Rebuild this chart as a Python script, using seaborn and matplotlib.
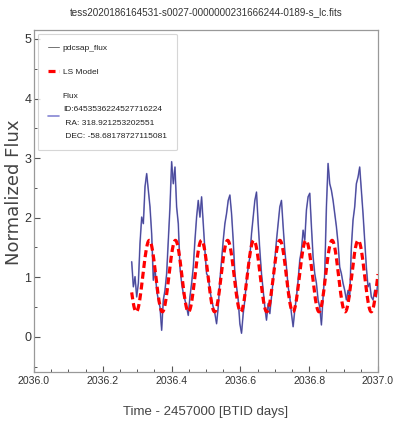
import numpy as np
import pandas as pd
import matplotlib
matplotlib.use("Agg")
import matplotlib.pyplot as plt
import matplotlib.font_manager as fm
from matplotlib.ticker import MultipleLocator
import seaborn as sns

# ---- light curve data -------------------------------------------------------
title = "tess2020186164531-s0027-0000000231666244-0189-s_lc.fits"
t_start, t_end = 2036.284, 2037.0
flux = [
    1.26, 0.84, 1.01, 0.67, 0.90, 1.57, 2.01, 1.90, 2.52, 2.74,
    2.46, 2.18, 1.73, 0.95, 1.17, 0.78, 0.62, 0.50, 0.11, 0.62,
    0.78, 1.06, 1.62, 2.18, 2.94, 2.57, 2.85, 2.18, 1.90, 1.17,
    0.90, 0.73, 0.62, 0.50, 0.36, 0.67, 0.90, 1.17, 1.62, 2.01,
    2.29, 2.01, 2.35, 1.90, 1.45, 1.06, 1.01, 0.78, 0.62, 0.50,
    0.39, 0.22, 0.50, 0.95, 1.29, 1.62, 1.90, 2.07, 2.29, 2.38,
    2.07, 1.62, 1.06, 0.84, 0.62, 0.22, 0.06, 0.39, 0.62, 0.95,
    1.17, 1.34, 1.73, 2.01, 2.29, 2.43, 1.90, 1.45, 1.06, 0.78,
    0.50, 0.28, 0.56, 0.39, 0.67, 0.95, 1.29, 1.62, 1.90, 2.18,
    2.29, 1.85, 1.45, 1.17, 0.84, 0.67, 0.39, 0.17, 0.45, 0.67,
    0.95, 1.29, 1.45, 1.79, 1.62, 2.13, 2.35, 2.41, 1.85, 1.34,
    1.06, 0.90, 0.62, 0.50, 0.20, 0.67, 1.06, 2.18, 2.91, 2.57,
    2.46, 2.29, 2.07, 1.85, 1.57, 1.17, 1.06, 0.90, 0.78, 0.62,
    0.78, 0.67, 1.51, 1.96, 2.18, 2.57, 2.68, 2.85, 2.46, 2.07,
    1.62, 1.17, 0.84, 0.90, 0.67, 0.62, 0.78, 0.67, 0.95,
]

# Lomb-Scargle best-fit sinusoid
ls_period = 0.0759      # days
ls_amplitude = 0.60
ls_offset = 1.02
ls_epoch = 2036.3352    # time of maximum

target_id = "6453536224527716224"
target_ra = "318.921253202551"
target_dec = "-58.68178727115081"

x_ticks = [2036.0, 2036.2, 2036.4, 2036.6, 2036.8, 2037.0]
y_ticks = [0, 1, 2, 3, 4, 5]

# ---- build tables -----------------------------------------------------------
time = np.linspace(t_start, t_end, len(flux))
lc = pd.DataFrame({"time": time, "flux": flux})

model_time = np.linspace(t_start, t_end, 800)
model = pd.DataFrame({
    "time": model_time,
    "flux": ls_offset + ls_amplitude * np.cos(2 * np.pi * (model_time - ls_epoch) / ls_period),
})

# ---- style ------------------------------------------------------------------
sns.set_theme(style="white")
names = {f.name for f in fm.fontManager.ttflist}
narrow = "Liberation Sans Narrow" if "Liberation Sans Narrow" in names else "Liberation Sans"
plt.rcParams["font.family"] = [narrow, "DejaVu Sans"]

fig = plt.figure(figsize=(3.94, 4.26), dpi=100)
ax = fig.add_axes([34 / 394, 1 - 372 / 426, 344 / 394, 342 / 426])

sns.lineplot(data=lc, x="time", y="flux", ax=ax, color="black", linewidth=0.7,
             alpha=0.55, label="pdcsap_flux", sort=False, zorder=2)
sns.lineplot(data=model, x="time", y="flux", ax=ax, color="red", linewidth=2.3,
             dashes=False, label="LS Model", sort=False, zorder=4)
ax.lines[-1].set_dashes((2.2, 1.2))
flux_label = f"Flux\nID:{target_id}\n RA: {target_ra}\n DEC: {target_dec}"
sns.lineplot(data=lc, x="time", y="flux", ax=ax, color="#2222b0", linewidth=1.2,
             alpha=0.55, label=flux_label, sort=False, zorder=3)

ax.set_xlim(2036.0, 2037.0)
ax.set_ylim(-0.59, 5.15)
ax.set_xticks(x_ticks)
ax.set_xticklabels([f"{v:.1f}" for v in x_ticks])
ax.set_yticks(y_ticks)
ax.xaxis.set_minor_locator(MultipleLocator(0.05))
ax.yaxis.set_minor_locator(MultipleLocator(0.5))
ax.tick_params(which="both", direction="in", colors="#555555", labelcolor="#333333",
               top=False, right=False, bottom=True, left=True)
ax.tick_params(which="major", length=4.5, width=0.8)
ax.tick_params(which="minor", length=2.5, width=0.7)
ax.tick_params(axis="x", labelsize=7.6, pad=3)
ax.tick_params(axis="y", labelsize=9, pad=2)
for sp in ax.spines.values():
    sp.set_color("#999999")
    sp.set_linewidth(0.9)

ax.set_title(title, fontsize=7.1, color="#333333", pad=11)
ax.set_xlabel("Time - 2457000 [BTID days]", fontsize=9.5, color="#444444", labelpad=14)
ax.set_ylabel("Normalized Flux", fontsize=13, color="#444444",
              family=["DejaVu Sans"])
ax.yaxis.set_label_coords(-0.031, 0.526)

leg = ax.legend(loc="upper left", fontsize=6.0, frameon=True, fancybox=True,
                handlelength=1.3, handletextpad=0.5, borderaxespad=0.45,
                labelspacing=2.0, borderpad=1.2)
leg.get_frame().set_edgecolor("#cccccc")
leg.get_frame().set_linewidth(0.8)
for txt in leg.get_texts():
    txt.set_color("#222222")
    txt.set_linespacing(2.3)

fig.savefig("out.png", dpi=100)
